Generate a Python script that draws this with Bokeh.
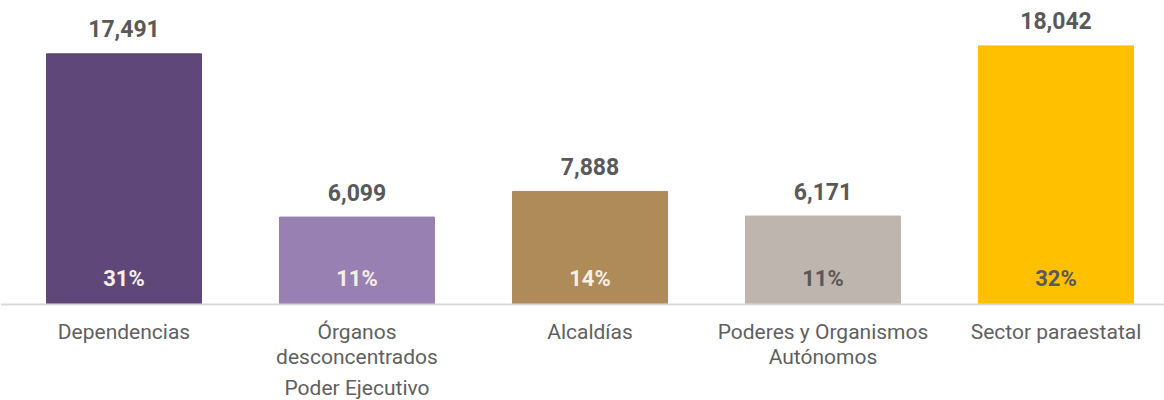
from bokeh.plotting import figure
from bokeh.models import Range1d, ColumnDataSource, Span
from bokeh.core.properties import value
from bokeh.embed import file_html
from bokeh.resources import INLINE

categories = ["Dependencias", "Órganos desconcentrados Poder Ejecutivo", "Alcaldías",
              "Poderes y Organismos Autónomos", "Sector paraestatal"]
label_lines = [["Dependencias"],
               ["Órganos", "desconcentrados", "Poder Ejecutivo"],
               ["Alcaldías"],
               ["Poderes y Organismos", "Autónomos"],
               ["Sector paraestatal"]]
values = [17491, 6099, 7888, 6171, 18042]
shares = ["31%", "11%", "14%", "11%", "32%"]
colors = ["#5f4879", "#9880b2", "#b08b5a", "#bdb5ae", "#ffc000"]
share_colors = ["#f6efe4", "#f6efe4", "#f6efe4", "#595959", "#595959"]

W, H = 1164, 400
p = figure(width=W, height=H, output_backend="svg", toolbar_location=None,
           min_border=0, min_border_left=0, min_border_right=0,
           min_border_top=0, min_border_bottom=0)
p.x_range = Range1d(-123.5 / 233, (W - 123.5) / 233)
p.y_range = Range1d(-(H - 304) / 0.014333, 304 / 0.014333)
p.axis.visible = False
p.grid.visible = False
p.outline_line_color = None
p.background_fill_color = "white"
p.border_fill_color = "white"

xs = list(range(len(categories)))
src = ColumnDataSource(dict(x=xs, top=values, color=colors,
                            vlab=[f"{v:,}" for v in values],
                            share=shares, scol=share_colors))
p.vbar(x="x", top="top", bottom=0, width=155 / 233, color="color", source=src)

p.add_layout(Span(location=0, dimension="width", line_color="#d9d9d9", line_width=2))

p.text(x="x", y="top", text="vlab", source=src, text_align="center",
       text_baseline="alphabetic", y_offset=-25, text_font=value("Roboto"),
       text_font_style="bold", text_font_size="23px", text_color="#595959")
p.text(x="x", y=0, text="share", source=src, text_align="center",
       text_baseline="alphabetic", y_offset=-26, text_font=value("Roboto"),
       text_font_style="bold", text_font_size="22px", text_color="scol")

line_offsets = [27, 52, 83]
lx, ly, lt, lo = [], [], [], []
for i, lines in enumerate(label_lines):
    for j, t in enumerate(lines):
        lx.append(i); ly.append(0); lt.append(t); lo.append(line_offsets[j])
lsrc = ColumnDataSource(dict(x=lx, y=ly, t=lt, o=lo))
p.text(x="x", y="y", text="t", y_offset="o", source=lsrc, text_align="center",
       text_baseline="alphabetic", text_font=value("Roboto"),
       text_font_size="21px", text_color="#5f5f5f")

open("out.html", "w").write(file_html(p, INLINE))
